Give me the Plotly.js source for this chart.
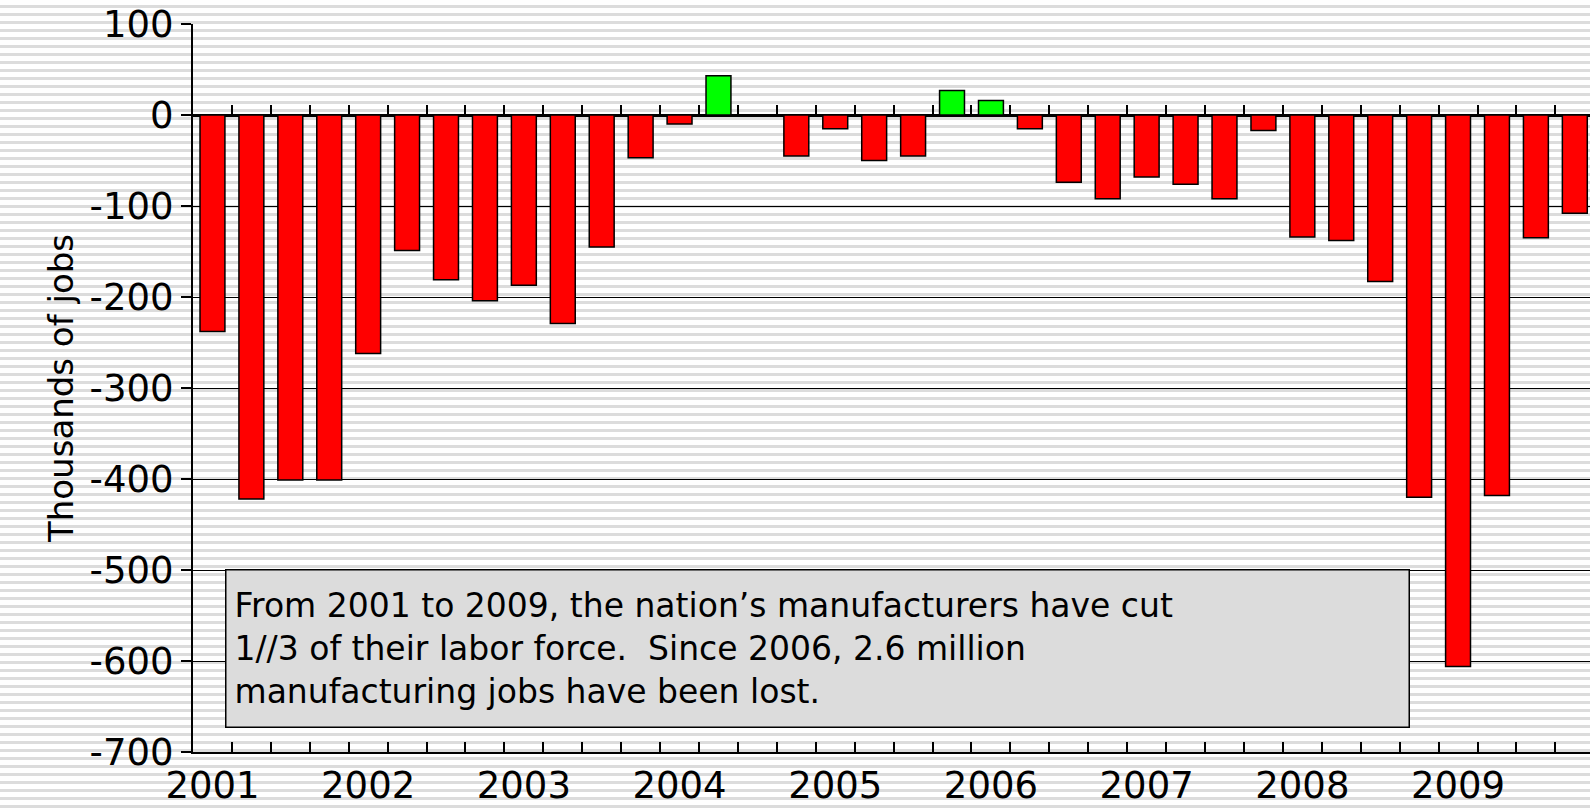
<!DOCTYPE html>
<html>
<head>
<meta charset="utf-8">
<script src="https://cdn.plot.ly/plotly-3.0.1.min.js"></script>
<style>
  html, body { margin: 0; padding: 0; }
  body {
    width: 1590px; height: 810px;
    background: repeating-linear-gradient(to bottom, #ffffff 0px, #ffffff 5px, #dcdcdc 5px, #dcdcdc 8px);
  }
  #chart { width: 1590px; height: 810px; }
</style>
</head>
<body>
<div id="chart"></div>
<script>
// quarterly change in manufacturing jobs, thousands (null = no bar)
const years = ['2001', '2002', '2003', '2004', '2005', '2006', '2007', '2008', '2009'];
const quarters = ['Q1', 'Q2', 'Q3', 'Q4'];
const jobChange = [
    -238, -422, -401, -401,
    -262, -149, -181, -204,
    -187, -229, -145, -47,
    -10, 43, null, -45,
    -15, -50, -45, 27,
    16, -15, -74, -92,
    -68, -76, -92, -17,
    -134, -138, -183, -420,
    -606, -418, -135, -108
];
const yTicks = [100, 0, -100, -200, -300, -400, -500, -600, -700];

const cats = [];
const labels = [];
years.forEach(y => quarters.forEach((q, i) => {
    cats.push(y + ' ' + q);
    labels.push(i === 0 ? y : '');
}));

const trace = {
    x: cats,
    y: jobChange,
    type: 'bar',
    width: 0.64,
    marker: {
        color: jobChange.map(v => v > 0 ? '#00ff00' : '#ff0000'),
        line: { color: '#000', width: 1.5 }
    },
    hoverinfo: 'x+y'
};

const font = 'Verdana, "DejaVu Sans", sans-serif';

const layout = {
    width: 1590,
    height: 810,
    paper_bgcolor: 'rgba(0,0,0,0)',
    plot_bgcolor: 'rgba(0,0,0,0)',
    margin: { l: 193, r: 0, t: 24, b: 58 },
    showlegend: false,
    font: { family: font, color: '#000' },
    xaxis: {
        type: 'category',
        range: [-0.5, 35.39],
        tickmode: 'array',
        tickvals: cats,
        ticktext: labels,
        tickangle: 0,
        tickson: 'boundaries',
        ticks: 'inside',
        ticklen: 10,
        tickwidth: 1.5,
        tickcolor: '#000',
        tickfont: { size: 37 },
        showline: true,
        linecolor: '#000',
        linewidth: 2,
        showgrid: false,
        zeroline: false
    },
    xaxis2: {
        type: 'category',
        overlaying: 'x',
        matches: 'x',
        anchor: 'free',
        position: 0.875,
        tickmode: 'array',
        tickvals: cats,
        tickson: 'boundaries',
        ticks: 'inside',
        ticklen: 10,
        tickwidth: 1.5,
        tickcolor: '#000',
        showticklabels: false,
        showline: false,
        showgrid: false
    },
    yaxis: {
        range: [-700, 100],
        tickmode: 'array',
        tickvals: yTicks,
        ticktext: yTicks.map(String),
        ticks: 'outside',
        ticklen: 10,
        tickwidth: 1.5,
        tickcolor: '#000',
        tickfont: { size: 37 },
        showline: true,
        linecolor: '#000',
        linewidth: 2,
        gridcolor: '#000',
        gridwidth: 1.2,
        zeroline: true,
        zerolinecolor: '#000',
        zerolinewidth: 2.5,
        title: { text: 'Thousands of jobs', font: { size: 34 }, standoff: 6 }
    },
    annotations: [{
        xref: 'paper', yref: 'paper',
        x: 0.023, y: 0.251,
        xanchor: 'left', yanchor: 'top',
        width: 1166, height: 140,
        align: 'left', valign: 'middle',
        showarrow: false,
        bgcolor: '#dcdcdc',
        bordercolor: '#000',
        borderwidth: 1.5,
        borderpad: 8,
        font: { size: 33, family: font },
        text: 'From 2001 to 2009, the nation’s manufacturers have cut<br>1//3 of their labor force.  Since 2006, 2.6 million<br>manufacturing jobs have been lost.'
    }]
};

// invisible trace so the second axis draws its ticks on the zero line
const zeroTicks = { x: cats, y: cats.map(() => null), xaxis: 'x2', type: 'scatter', hoverinfo: 'skip' };

Plotly.newPlot('chart', [trace, zeroTicks], layout, { displayModeBar: false });
</script>
</body>
</html>
